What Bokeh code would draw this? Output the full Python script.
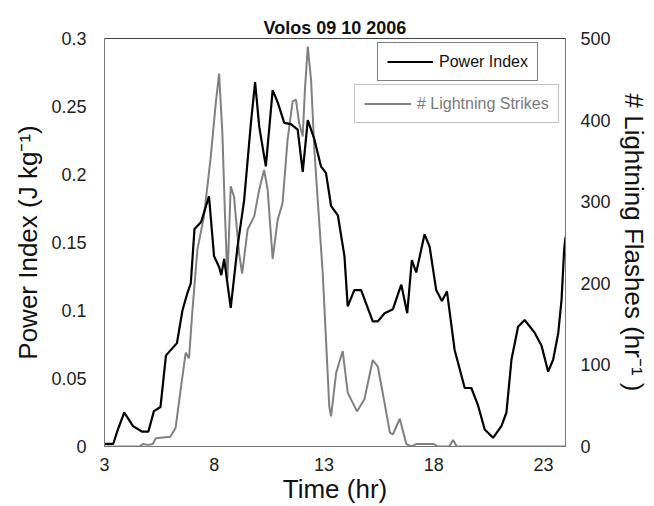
from bokeh.plotting import figure
from bokeh.models import Range1d, LinearAxis, FixedTicker, Legend, LegendItem
from bokeh.embed import file_html
from bokeh.resources import INLINE

# ---- data ----
time_pi = [3.0, 3.4, 3.6, 3.9, 4.3, 4.7, 5.0, 5.25, 5.55, 5.8, 6.3, 6.55, 6.78, 6.93,
           7.1, 7.4, 7.76, 7.99, 8.22, 8.32, 8.45, 8.75, 9.06, 9.36, 9.67, 9.86, 10.05,
           10.35, 10.66, 10.89, 11.19, 11.49, 11.8, 12.03, 12.26, 12.56, 12.86, 13.09,
           13.32, 13.63, 13.93, 14.08, 14.38, 14.69, 15.22, 15.45, 15.76, 16.14, 16.37,
           16.52, 16.79, 17.0, 17.2, 17.58, 17.81, 18.11, 18.37, 18.6, 18.95, 19.41,
           19.71, 20.02, 20.32, 20.7, 21.08, 21.31, 21.54, 21.84, 22.14, 22.6, 22.91,
           23.21, 23.44, 23.67, 23.82, 23.94, 24.0]
power_index = [0.002, 0.002, 0.012, 0.025, 0.015, 0.011, 0.011, 0.026, 0.029, 0.067,
               0.076, 0.100, 0.113, 0.120, 0.160, 0.165, 0.184, 0.140, 0.132, 0.126,
               0.138, 0.102, 0.147, 0.181, 0.238, 0.268, 0.235, 0.206, 0.262, 0.253,
               0.238, 0.237, 0.233, 0.202, 0.240, 0.226, 0.206, 0.201, 0.177, 0.170,
               0.140, 0.103, 0.115, 0.115, 0.092, 0.092, 0.098, 0.101, 0.112, 0.119,
               0.098, 0.137, 0.128, 0.156, 0.147, 0.115, 0.107, 0.114, 0.071, 0.043,
               0.043, 0.030, 0.0125, 0.0064, 0.015, 0.025, 0.064, 0.088, 0.093, 0.0835,
               0.074, 0.055, 0.064, 0.0835, 0.108, 0.145, 0.154]

time_ls = [3.0, 4.6, 4.75, 5.0, 5.2, 5.33, 6.0, 6.24, 6.47, 6.7, 6.85, 7.0, 7.23, 7.53,
           7.84, 8.07, 8.22, 8.37, 8.48, 8.6, 8.75, 8.9, 9.13, 9.27, 9.52, 9.82, 10.05,
           10.27, 10.43, 10.66, 10.89, 11.11, 11.34, 11.57, 11.72, 11.87, 12.03, 12.13,
           12.26, 12.41, 12.56, 12.71, 12.94, 13.09, 13.24, 13.32, 13.55, 13.85, 14.08,
           14.5, 14.84, 15.22, 15.45, 15.76, 16.0, 16.14, 16.45, 16.75, 16.98, 17.2,
           18.0, 18.2, 18.7, 18.88, 19.05, 24.0]
lightning = [0, 0, 3, 2, 3, 10, 12, 23, 70, 115, 108, 165, 241, 282, 355, 421, 457, 384,
             290, 205, 319, 306, 237, 212, 266, 282, 315, 339, 315, 230, 278, 298, 376,
             423, 425, 396, 380, 437, 490, 449, 364, 303, 213, 131, 49, 37, 90, 117, 66,
             43, 58, 106, 98, 53, 17, 15, 34, 3, 0, 3, 3, 0, 0, 8, 0, 0]

x_ticks = [3, 8, 13, 18, 23]
left_ticks = [0, 0.05, 0.1, 0.15, 0.2, 0.25, 0.3]
left_labels = ["0", "0.05", "0.1", "0.15", "0.2", "0.25", "0.3"]
right_ticks = [0, 100, 200, 300, 400, 500]

FONT = "Liberation Sans"

p = figure(width=654, height=506, output_backend="svg", toolbar_location=None,
           x_range=Range1d(3, 24), y_range=Range1d(0, 0.3),
           min_border_left=104, min_border_right=89, min_border_top=38,
           min_border_bottom=59, background_fill_color="white",
           border_fill_color="white")
p.extra_y_ranges = {"flash": Range1d(0, 500)}

p.title.text = "Volos 09 10 2006"
p.title.align = "center"
p.title.text_font = FONT
p.title.text_font_size = "18px"
p.title.text_font_style = "bold"
p.title.text_color = "#111111"
p.title.standoff = 2

p.grid.visible = False
p.outline_line_color = "#444444"
p.outline_line_width = 1

# x axis
xa = p.xaxis[0]
xa.ticker = FixedTicker(ticks=x_ticks)
xa.axis_label = "Time (hr)"

# left axis
ya = p.yaxis[0]
ya.ticker = FixedTicker(ticks=left_ticks)
ya.major_label_overrides = {t: l for t, l in zip(left_ticks, left_labels)}
ya.axis_label = "Power Index (J kg\u207b\u00b9)"

# right axis
ra = LinearAxis(y_range_name="flash", ticker=FixedTicker(ticks=right_ticks),
                axis_label="# Lightning Flashes (hr\u207b\u00b9 )")
p.add_layout(ra, "right")

for ax, st_tick, st_lab in ((xa, 5, 0), (ya, 12, 5), (ra, 9, 5)):
    ax.major_tick_line_color = None
    ax.minor_tick_line_color = None
    ax.axis_line_color = "#777777"
    ax.major_label_text_font = FONT
    ax.major_label_text_font_size = "18px"
    ax.major_label_text_color = "#222222"
    ax.axis_label_text_font = FONT
    ax.axis_label_text_font_size = "26px"
    ax.axis_label_text_font_style = "normal"
    ax.axis_label_text_color = "#111111"
    ax.major_label_standoff = st_tick
    ax.axis_label_standoff = st_lab

r_ls = p.line(time_ls, lightning, y_range_name="flash", line_color="#808080",
              line_width=2)
r_pi = p.line(time_pi, power_index, line_color="black", line_width=2.2)

leg1 = Legend(items=[LegendItem(label="Power Index", renderers=[r_pi])],
              location=(273, 365), margin=0, padding=9, spacing=0,
              glyph_width=46, glyph_height=19, label_height=19, label_standoff=6,
              border_line_color="black", border_line_width=1.5,
              label_text_font=FONT, label_text_font_size="16px",
              label_text_color="#111111", background_fill_alpha=1)
leg2 = Legend(items=[LegendItem(label="# Lightning Strikes", renderers=[r_ls])],
              location=(250, 323), margin=0, padding=9, spacing=0,
              glyph_width=47, glyph_height=19, label_height=19, label_standoff=6,
              border_line_color="#888888", border_line_width=1.5,
              label_text_font=FONT, label_text_font_size="16px",
              label_text_color="#7a7a7a", background_fill_alpha=1)
p.add_layout(leg1)
p.add_layout(leg2)

open("out.html", "w").write(file_html(p, INLINE))
